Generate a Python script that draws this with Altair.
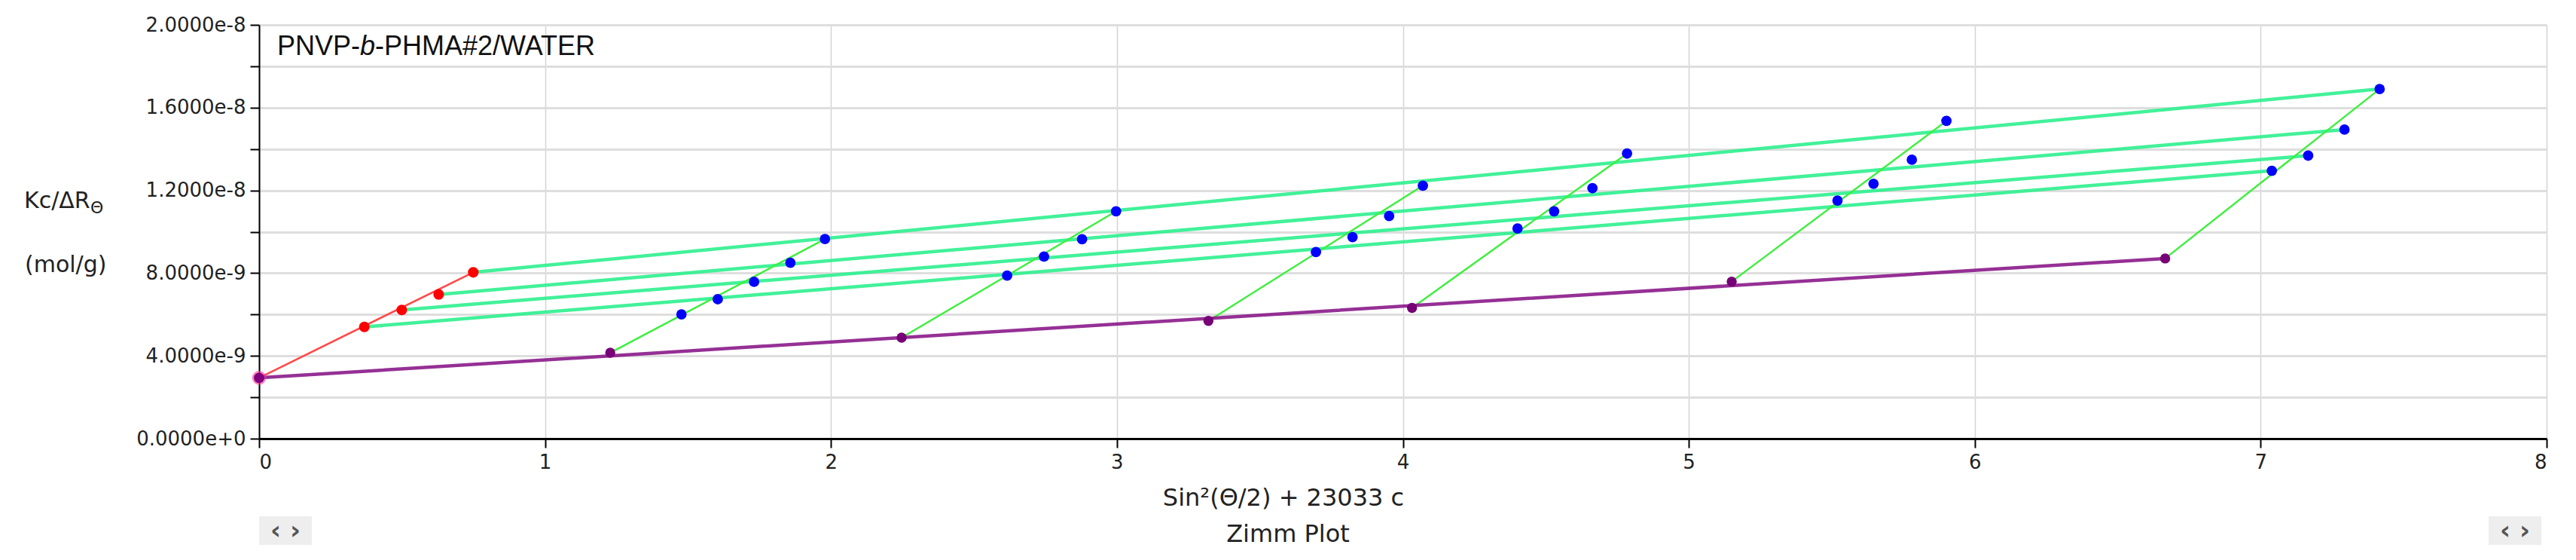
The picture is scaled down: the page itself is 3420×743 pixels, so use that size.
import altair as alt
import pandas as pd

# ---- data (y values in units of 1e-9 mol/g) ----
# c -> 0 extrapolated points, one per angle (purple)
ang_x0 = [1.228, 2.247, 3.320, 4.032, 5.150, 6.666]
ang_y0 = [4.15, 4.88, 5.69, 6.32, 7.59, 8.71]
# theta -> 0 extrapolated points, one per concentration (red)
conc_x0 = [0.368, 0.499, 0.628, 0.749]
conc_y0 = [5.40, 6.22, 6.97, 8.04]
# common intercept
origin_x = [0.0]
origin_y = [2.94]
# measured points (blue): rows = angle, columns = concentration
blue_x = [
    [1.604, 1.731, 1.858, 1.979],
    [2.616, 2.745, 2.878, 2.997],
    [3.696, 3.824, 3.952, 4.070],
    [4.401, 4.529, 4.663, 4.784],
    [5.520, 5.646, 5.780, 5.901],
    [7.039, 7.166, 7.293, 7.416],
]
blue_y = [
    [6.74, 7.58, 8.50, 9.65],
    [7.88, 8.80, 9.64, 10.99],
    [9.02, 9.74, 10.76, 12.23],
    [10.16, 10.99, 12.11, 13.78],
    [11.51, 12.32, 13.48, 15.36],
    [12.95, 13.68, 14.94, 16.90],
]
# one extra measured point (lowest concentration, first angle)
extra_x = [1.477]
extra_y = [6.01]

SCALE = 1e-9
y_ticks = [i * 2e-9 for i in range(11)]
x_ticks = [0, 1, 2, 3, 4, 5, 6, 7, 8]

# ---- tables ----
blue_rows = []
for a in range(len(blue_x)):
    for c in range(len(blue_x[a])):
        blue_rows.append({"x": blue_x[a][c], "y": blue_y[a][c] * SCALE})
for x, y in zip(extra_x, extra_y):
    blue_rows.append({"x": x, "y": y * SCALE})
blue_df = pd.DataFrame(blue_rows)

purple_df = pd.DataFrame({"x": ang_x0, "y": [v * SCALE for v in ang_y0]})
red_df = pd.DataFrame({"x": conc_x0, "y": [v * SCALE for v in conc_y0]})
origin_df = pd.DataFrame({"x": origin_x, "y": [v * SCALE for v in origin_y]})

# concentration lines: from the theta->0 point to the highest-angle point of that concentration
conc_rows = []
last = len(blue_x) - 1
for c in range(len(conc_x0)):
    conc_rows.append({"x": conc_x0[c], "y": conc_y0[c] * SCALE, "g": f"c{c}"})
    conc_rows.append({"x": blue_x[last][c], "y": blue_y[last][c] * SCALE, "g": f"c{c}"})
conc_df = pd.DataFrame(conc_rows)

# angle lines: from the c->0 point to the highest-concentration point of that angle
ang_rows = []
for a in range(len(ang_x0)):
    ang_rows.append({"x": ang_x0[a], "y": ang_y0[a] * SCALE, "g": f"a{a}"})
    ang_rows.append({"x": blue_x[a][-1], "y": blue_y[a][-1] * SCALE, "g": f"a{a}"})
ang_df = pd.DataFrame(ang_rows)

# c -> 0 and theta -> 0 lines from the intercept
c0_df = pd.DataFrame({"x": [origin_x[0], ang_x0[-1]], "y": [origin_y[0] * SCALE, ang_y0[-1] * SCALE], "g": "c0"})
t0_df = pd.DataFrame({"x": [origin_x[0], conc_x0[-1]], "y": [origin_y[0] * SCALE, conc_y0[-1] * SCALE], "g": "t0"})

W, H = 3037, 549
FONT = "DejaVu Sans"

x_enc = alt.X(
    "x:Q",
    scale=alt.Scale(domain=[0, 8], nice=False, zero=False),
    axis=alt.Axis(
        values=x_ticks, format="d", title=None,
        labelFont=FONT, labelFontSize=26, labelColor="#222222", labelPadding=6,
        tickSize=12, tickWidth=2, tickColor="#000000",
        domainColor="#000000", domainWidth=3,
        grid=True, gridColor="#d4d4d4", gridWidth=1.5,
    ),
)
y_enc = alt.Y(
    "y:Q",
    scale=alt.Scale(domain=[0, 2e-8], nice=False, zero=False),
    axis=alt.Axis(
        values=y_ticks, title=None,
        labelExpr="round(datum.value*1e9) % 4 == 0 ? format(datum.value, '.4e') : ''",
        labelFont=FONT, labelFontSize=26, labelColor="#222222", labelPadding=6,
        tickSize=12, tickWidth=2, tickColor="#000000",
        domainColor="#000000", domainWidth=2,
        grid=True, gridColor="#dedede", gridWidth=3,
    ),
)


def seg_lines(df, color, width, opacity=1.0):
    return (
        alt.Chart(df)
        .mark_line(color=color, strokeWidth=width, opacity=opacity, strokeCap="round")
        .encode(x=x_enc, y=y_enc, detail="g:N")
    )


conc_lines = seg_lines(conc_df, "#2ef08e", 4.5, 0.9)
ang_lines = seg_lines(ang_df, "#3cf03c", 2.4)
t0_line = seg_lines(t0_df, "#ff4a4a", 2.6)
c0_line = seg_lines(c0_df, "#8a1a8a", 4.5, 0.9)

blue_pts = alt.Chart(blue_df).mark_point(filled=True, shape="circle", size=190, color="#0000ff", opacity=1).encode(x=x_enc, y=y_enc)
purple_pts = alt.Chart(purple_df).mark_point(filled=True, shape="circle", size=180, color="#770077", opacity=1).encode(x=x_enc, y=y_enc)
red_pts = alt.Chart(red_df).mark_point(filled=True, shape="circle", size=200, color="#ff0000", opacity=1).encode(x=x_enc, y=y_enc)
origin_halo = alt.Chart(origin_df).mark_point(filled=True, shape="circle", size=340, color="#ff3399", opacity=0.6).encode(x=x_enc, y=y_enc)
origin_pt = alt.Chart(origin_df).mark_point(filled=True, shape="circle", size=190, color="#800080", opacity=1).encode(x=x_enc, y=y_enc)

one = pd.DataFrame({"k": [0]})


def txt(text, x, y, size=30, font=FONT, style="normal", align="left", baseline="alphabetic", color="#222222", weight="normal"):
    return alt.Chart(one).mark_text(
        text=text, font=font, fontSize=size, fontStyle=style, fontWeight=weight,
        align=align, baseline=baseline, color=color,
    ).encode(x=alt.value(x), y=alt.value(y))


# title inside the plot
t1 = txt("PNVP-", 24, 40, size=36, font="Liberation Sans", color="#111111")
t2 = txt("b", 134, 40, size=36, font="Liberation Sans", style="italic", color="#111111")
t3 = txt("-PHMA#2/WATER", 154, 40, size=36, font="Liberation Sans", color="#111111")

# y axis title
yt1 = txt("Kc/\u0394R", -312, 243, size=30)
yt2 = txt("\u0398", -224, 250, size=22)
yt3 = txt("(mol/g)", -311, 328, size=30)

# x axis title
xt1 = txt("Sin\u00b2(\u0398/2) + 23033 c", 1360, 628, size=32, align="center", baseline="middle")
xt2 = txt("Zimm Plot", 1366, 676, size=32, align="center", baseline="middle")

# scroll buttons
btn_l = alt.Chart(one).mark_rect(color="#eeeeee").encode(x=alt.value(0), x2=alt.value(70), y=alt.value(652), y2=alt.value(690))
btn_r = alt.Chart(one).mark_rect(color="#eeeeee").encode(x=alt.value(2960), x2=alt.value(3030), y=alt.value(652), y2=alt.value(690))
bl = txt("\u2039  \u203a", 35, 672, size=34, align="center", baseline="middle", color="#555555", weight="bold")
br = txt("\u2039  \u203a", 2995, 672, size=34, align="center", baseline="middle", color="#555555", weight="bold")

chart = alt.layer(
    conc_lines, ang_lines, t0_line, c0_line,
    origin_halo, purple_pts, red_pts, blue_pts, origin_pt,
    t1, t2, t3, yt1, yt2, yt3, xt1, xt2, btn_l, btn_r, bl, br,
).properties(
    width=W, height=H,
    autosize=alt.AutoSizeParams(type="none"),
    padding={"left": 336, "top": 25, "right": 31, "bottom": 150},
).configure_view(stroke=None).configure(background="#ffffff")

chart.save("out.html", embed_options={"renderer": "svg", "actions": False})
